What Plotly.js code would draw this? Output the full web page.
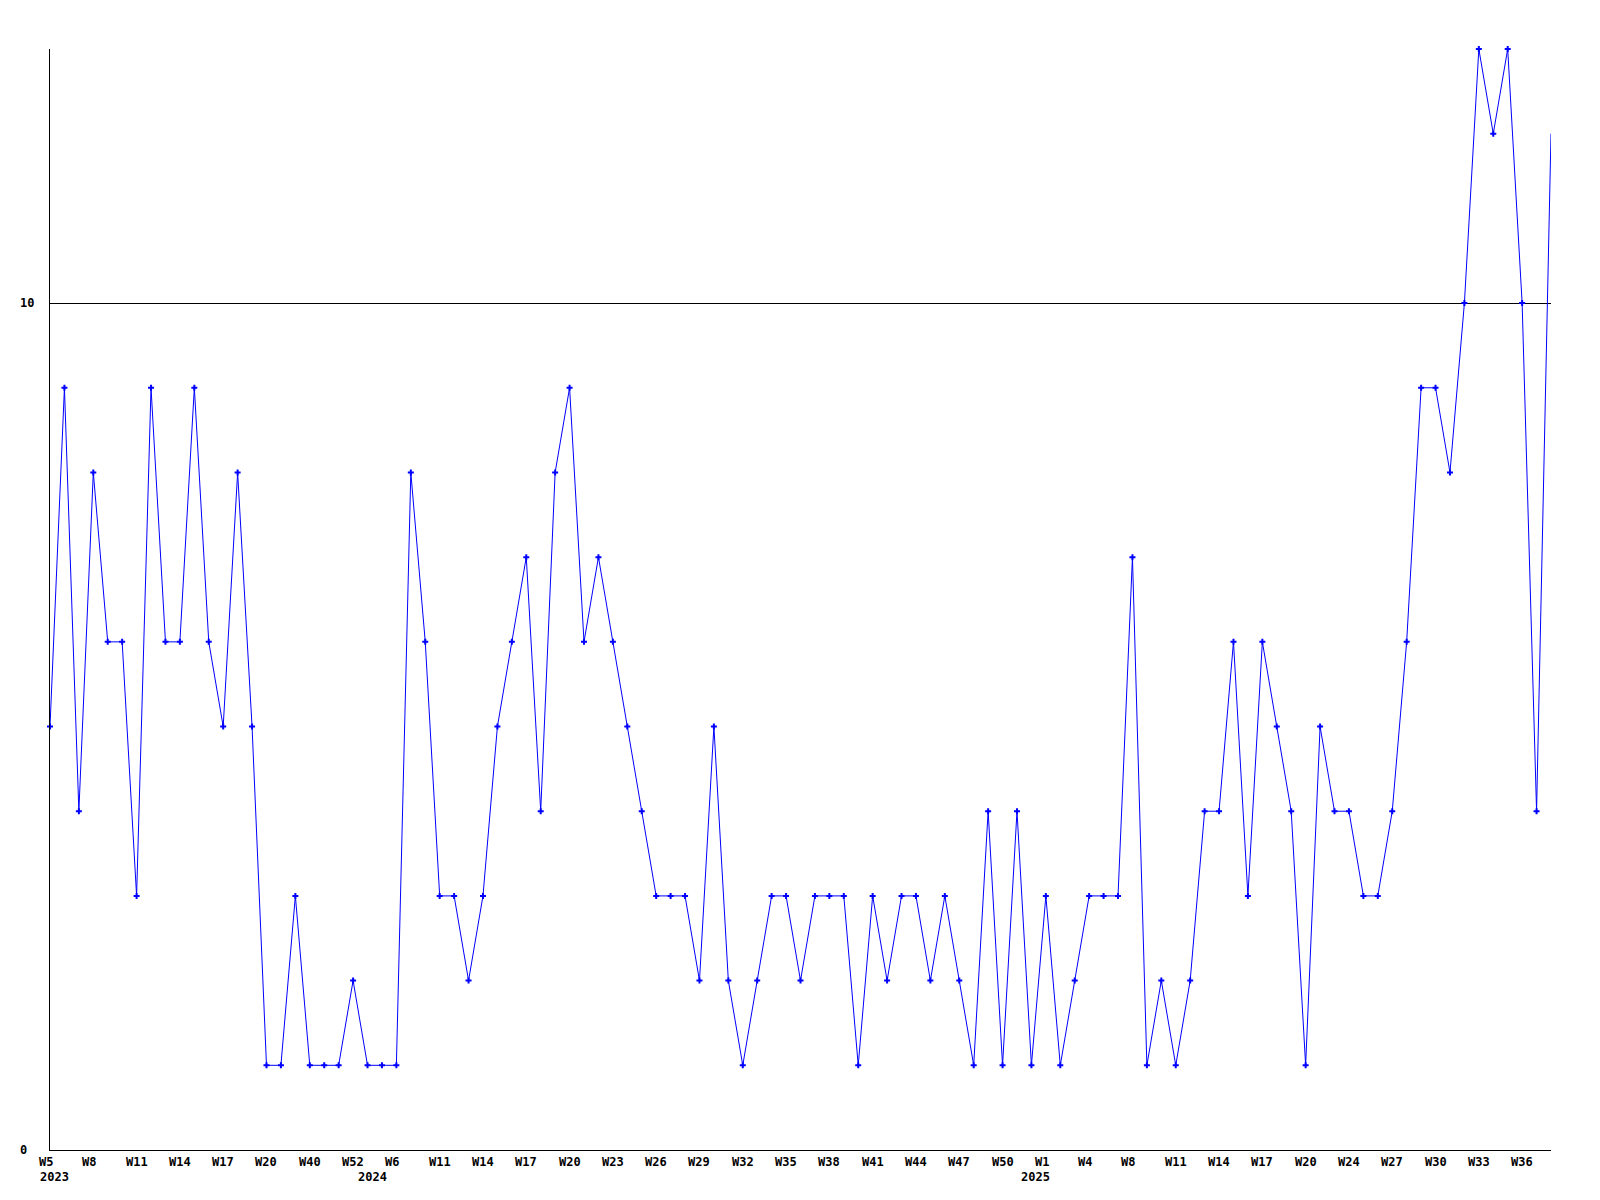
<!DOCTYPE html>
<html>
<head>
<meta charset="utf-8">
<script src="https://cdn.plot.ly/plotly-3.0.1.min.js"></script>
<style>html,body{margin:0;padding:0;background:#fff;}#chart{width:1600px;height:1200px;}</style>
</head>
<body>
<div id="chart"></div>
<script>
// Weekly counts, one per period (index 0 = 2023 W5)
const values = [
  5, 9, 4, 8, 6, 6, 3, 9, 6, 6,
  9, 6, 5, 8, 5, 1, 1, 3, 1, 1,
  1, 2, 1, 1, 1, 8, 6, 3, 3, 2,
  3, 5, 6, 7, 4, 8, 9, 6, 7, 6,
  5, 4, 3, 3, 3, 2, 5, 2, 1, 2,
  3, 3, 2, 3, 3, 3, 1, 3, 2, 3,
  3, 2, 3, 2, 1, 4, 1, 4, 1, 3,
  1, 2, 3, 3, 3, 7, 1, 2, 1, 2,
  4, 4, 6, 3, 6, 5, 4, 1, 5, 4,
  4, 3, 3, 4, 6, 9, 9, 8, 10, 13,
  12, 13, 10, 4, 12
];

// Week tick labels and the period index where each is drawn
const tickIndex = [0, 3, 6, 9, 12, 15, 18, 21, 24, 27, 30, 33, 36, 39, 42, 45, 48, 51, 54, 57, 60, 63, 66, 69, 72, 75, 78, 81, 84, 87, 90, 93, 96, 99, 102];
const tickText  = ["W5", "W8", "W11", "W14", "W17", "W20", "W40", "W52", "W6", "W11", "W14", "W17", "W20", "W23", "W26", "W29", "W32", "W35", "W38", "W41", "W44", "W47", "W50", "W1", "W4", "W8", "W11", "W14", "W17", "W20", "W24", "W27", "W30", "W33", "W36"];

// Year labels and the period index where each is drawn
const yearIndex = [0, 22, 68];
const yearText  = ["2023", "2024", "2025"];

// Y axis ticks
const yTickVals = [0, 10];
const yTickText = ["0", "10"];

const xs = values.map((_, i) => i);
const font = {family: "DejaVu Sans Mono, monospace", size: 12, color: "#000"};

const annotations = [];
tickIndex.forEach((t, k) => annotations.push({
  x: t, xref: "x", y: 0, yref: "paper", text: "<b>" + tickText[k] + "</b>",
  showarrow: false, xanchor: "left", yanchor: "middle", xshift: -12, yshift: -12, font: font, borderpad: 0
}));
yearIndex.forEach((t, k) => annotations.push({
  x: t, xref: "x", y: 0, yref: "paper", text: "<b>" + yearText[k] + "</b>",
  showarrow: false, xanchor: "left", yanchor: "middle", xshift: -11, yshift: -27, font: font, borderpad: 0
}));
yTickVals.forEach((v, k) => annotations.push({
  x: 0, xref: "paper", y: v, yref: "y", text: "<b>" + yTickText[k] + "</b>",
  showarrow: false, xanchor: "left", yanchor: "middle", xshift: -31, font: font, borderpad: 0
}));

const lineTrace = {
  x: xs, y: values, type: "scatter", mode: "lines",
  line: {color: "#0000ff", width: 1},
  hoverinfo: "none"
};
// the final point has no marker in the reference
const markerTrace = {
  x: xs.slice(0, -1), y: values.slice(0, -1), type: "scatter", mode: "markers",
  marker: {color: "#0000ff", symbol: "cross", size: 5},
  cliponaxis: false,
  hoverinfo: "none"
};

const layout = {
  width: 1600, height: 1200,
  margin: {l: 50, r: 49, t: 49, b: 50, pad: 0},
  paper_bgcolor: "#fff", plot_bgcolor: "#fff",
  showlegend: false,
  xaxis: {range: [0, xs.length - 1], showline: true, linecolor: "#000", linewidth: 1,
          showgrid: false, zeroline: false, showticklabels: false, ticks: ""},
  yaxis: {range: [0, 13], showline: true, linecolor: "#000", linewidth: 1,
          tickvals: yTickVals, showgrid: true, gridcolor: "#000", gridwidth: 1,
          zeroline: false, showticklabels: false, ticks: ""},
  annotations: annotations
};

Plotly.newPlot("chart", [lineTrace, markerTrace], layout, {staticPlot: true, displayModeBar: false});
</script>
</body>
</html>
